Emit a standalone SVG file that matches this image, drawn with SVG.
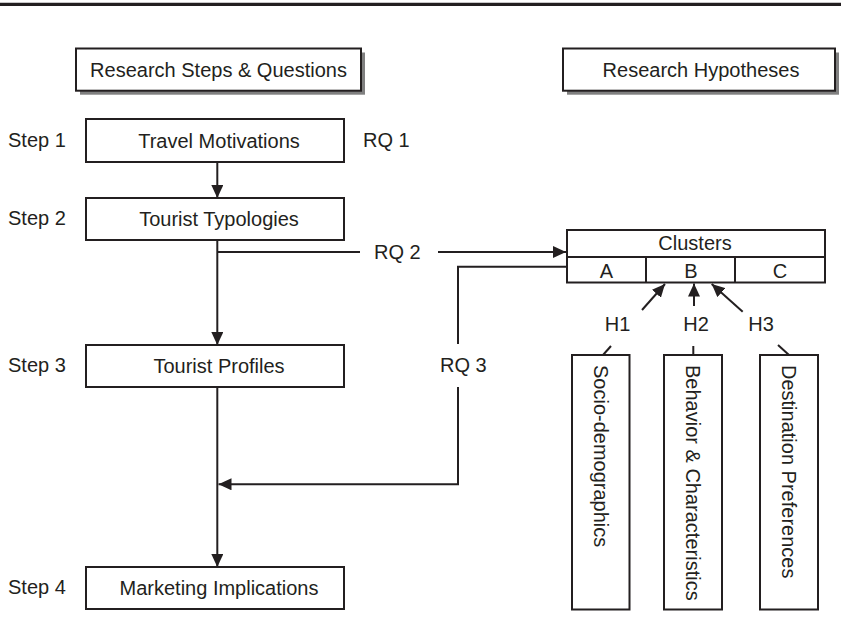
<svg xmlns="http://www.w3.org/2000/svg" width="841" height="637" viewBox="0 0 841 637">
<defs>
<marker id="ah" viewBox="0 0 13 12" refX="13" refY="6" markerWidth="13" markerHeight="12" markerUnits="userSpaceOnUse" orient="auto">
<path d="M0,0 L13,6 L0,12 z" fill="#231f20"/>
</marker>
<style>
.box{fill:#fff;stroke:#231f20;stroke-width:2}
.shadow{fill:#808080}
.t{font-family:"Liberation Sans",Arial,Helvetica,sans-serif;font-size:20px;fill:#231f20}
.m{text-anchor:middle}
.ln{fill:none;stroke:#231f20;stroke-width:2}
.arr{fill:none;stroke:#231f20;stroke-width:2;marker-end:url(#ah)}
</style>
</defs>
<rect width="841" height="637" fill="#fff"/>
<line x1="0" y1="4.3" x2="841" y2="4.3" stroke="#231f20" stroke-width="3.3"/>

<g id="header-steps">
<rect class="shadow" x="80" y="52.5" width="285" height="42.2"/>
<rect class="box" x="76" y="48.5" width="285" height="42.2"/>
<text class="t m" x="218.5" y="76.5">Research Steps &amp; Questions</text>
</g>
<g id="header-hypotheses">
<rect class="shadow" x="567" y="52.5" width="272" height="42.2"/>
<rect class="box" x="563" y="48.5" width="272" height="42.2"/>
<text class="t m" x="701" y="76.5">Research Hypotheses</text>
</g>

<g id="step-labels">
<text class="t" x="8" y="147">Step 1</text>
<text class="t" x="8" y="225">Step 2</text>
<text class="t" x="8" y="372">Step 3</text>
<text class="t" x="8" y="594">Step 4</text>
</g>

<g id="travel-motivations">
<rect class="box" x="86" y="119" width="258" height="43"/>
<text class="t m" x="219" y="147.5">Travel Motivations</text>
</g>
<g id="tourist-typologies">
<rect class="box" x="86" y="198" width="258" height="42"/>
<text class="t m" x="219" y="226">Tourist Typologies</text>
</g>
<g id="tourist-profiles">
<rect class="box" x="86" y="345" width="258" height="42"/>
<text class="t m" x="219" y="373">Tourist Profiles</text>
</g>
<g id="marketing-implications">
<rect class="box" x="86" y="567" width="258" height="42"/>
<text class="t m" x="219" y="595">Marketing Implications</text>
</g>

<g id="rq-labels">
<text class="t" x="363" y="147">RQ 1</text>
<text class="t" x="374" y="259">RQ 2</text>
<text class="t" x="440" y="372">RQ 3</text>
</g>

<g id="clusters">
<rect class="box" x="567" y="230" width="258" height="52.5"/>
<line class="ln" x1="567" y1="257" x2="825" y2="257"/>
<line class="ln" x1="646" y1="257" x2="646" y2="282.5"/>
<line class="ln" x1="735" y1="257" x2="735" y2="282.5"/>
<text class="t m" x="695" y="249.5">Clusters</text>
<text class="t m" x="606.5" y="277.5">A</text>
<text class="t m" x="691" y="277.5">B</text>
<text class="t m" x="780" y="277.5">C</text>
</g>

<g id="h-labels">
<text class="t m" x="617.5" y="331">H1</text>
<text class="t m" x="696" y="331">H2</text>
<text class="t m" x="761" y="331">H3</text>
</g>

<g id="socio-demographics">
<rect class="box" x="572" y="355" width="57.5" height="254.5"/>
<text class="t" x="600.7" y="365" dominant-baseline="central" transform="rotate(90 600.7 365)">Socio-demographics</text>
</g>
<g id="behavior-characteristics">
<rect class="box" x="664" y="355" width="58" height="254.5"/>
<text class="t" x="693" y="365" dominant-baseline="central" transform="rotate(90 693 365)">Behavior &amp; Characteristics</text>
</g>
<g id="destination-preferences">
<rect class="box" x="760" y="355" width="58" height="254.5"/>
<text class="t" x="789" y="365" dominant-baseline="central" transform="rotate(90 789 365)">Destination Preferences</text>
</g>

<g id="connectors">
<line class="arr" x1="217.3" y1="162" x2="217.3" y2="198"/>
<line class="arr" x1="217.3" y1="240" x2="217.3" y2="345"/>
<line class="arr" x1="217.3" y1="387" x2="217.3" y2="567"/>
<path class="ln" d="M217.3,252 H360"/>
<path class="arr" d="M438,252 H566"/>
<path class="ln" d="M566,266.7 H458 V344"/>
<path class="arr" d="M458,387 V484.3 H218.5"/>
<line class="ln" x1="603" y1="355" x2="611" y2="346"/>
<line class="arr" x1="642" y1="310" x2="665" y2="284"/>
<line class="ln" x1="693.3" y1="346" x2="693.3" y2="355"/>
<line class="arr" x1="694" y1="306" x2="694" y2="283.5"/>
<line class="ln" x1="789" y1="355" x2="778" y2="345"/>
<line class="arr" x1="742.7" y1="311.7" x2="711.7" y2="284"/>
</g>
</svg>
